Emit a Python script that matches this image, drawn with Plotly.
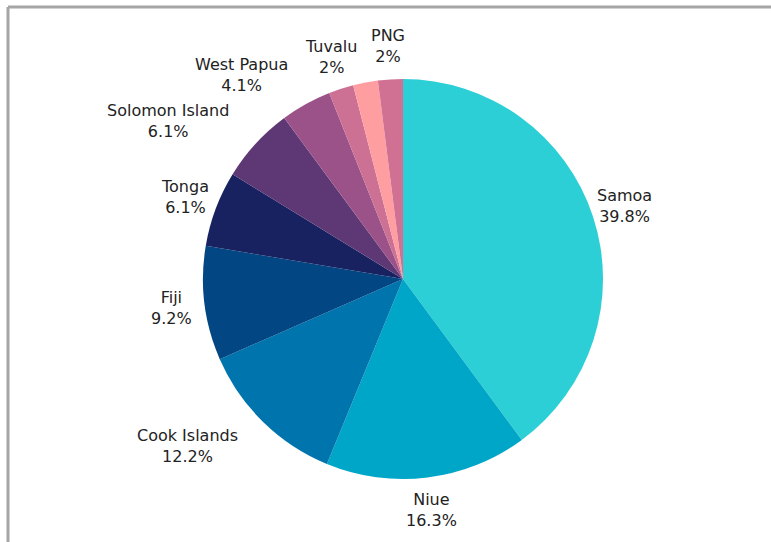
import math
import plotly.graph_objects as go

# Share of respondents by Pacific nation
countries = ["Samoa", "Niue", "Cook Islands", "Fiji", "Tonga",
             "Solomon Island", "West Papua", "Tuvalu", "Other", "PNG"]
shares = [39.8, 16.3, 12.2, 9.2, 6.1, 6.1, 4.1, 2, 2, 2]
show_label = [True, True, True, True, True, True, True, True, False, True]
colors = ["#2DCFD6", "#00A6C7", "#0074AC", "#024684", "#182261",
          "#5E3775", "#9B5288", "#CC7094", "#FF9EA1", "#D07193"]

W, H = 771, 542
L, T = 8, 7  # top-left corner of the framed panel
pw, ph = W - L, H - T

# pie placement in pixels: centre and radius
cx, cy, rad = 403, 279, 200
label_r = rad + 33
font = dict(family="DejaVu Sans, Noto Sans, sans-serif", size=16, color="#222222")

fig = go.Figure(go.Pie(
    labels=countries,
    values=shares,
    textinfo="none",
    sort=False,
    direction="clockwise",
    rotation=0,
    marker=dict(colors=colors, line=dict(width=0)),
    showlegend=False,
    hoverinfo="label+percent",
    domain=dict(
        x=[(cx - rad - L) / pw, (cx + rad - L) / pw],
        y=[(H - cy - rad) / ph, (H - cy + rad) / ph],
    ),
))


def to_paper(px, py):
    return (px - L) / pw, (H - py) / ph


# outside labels around each slice's mid-angle: centred near the
# horizontal/vertical axes, edge-anchored on the diagonals
total = sum(shares)
acc = 0.0
annotations = []
for name, v, show in zip(countries, shares, show_label):
    mid = (acc + v / 2) / total * 2 * math.pi
    acc += v
    if not show:
        continue
    s, c = math.sin(mid), math.cos(mid)
    ax, ay = to_paper(cx + s * label_r, cy - c * label_r)
    if 0.4 < abs(s) < 0.85:
        xa = "left" if s > 0 else "right"
    else:
        xa = "center"
    annotations.append(dict(
        x=ax, y=ay, xref="paper", yref="paper",
        text=f"{name}<br>{v:g}%", showarrow=False,
        xanchor=xa, yanchor="middle",
        align="center", font=font,
    ))

frame = dict(color="#A6A6A6", width=3)
fig.update_layout(
    width=W, height=H,
    margin=dict(l=L, r=0, t=T, b=0),
    paper_bgcolor="white",
    plot_bgcolor="white",
    annotations=annotations,
    shapes=[
        dict(type="line", xref="paper", yref="paper", x0=0, x1=1.02, y0=1, y1=1, line=frame),
        dict(type="line", xref="paper", yref="paper", x0=0, x1=0, y0=-0.02, y1=1, line=frame),
    ],
)

fig.write_html("out.html")
